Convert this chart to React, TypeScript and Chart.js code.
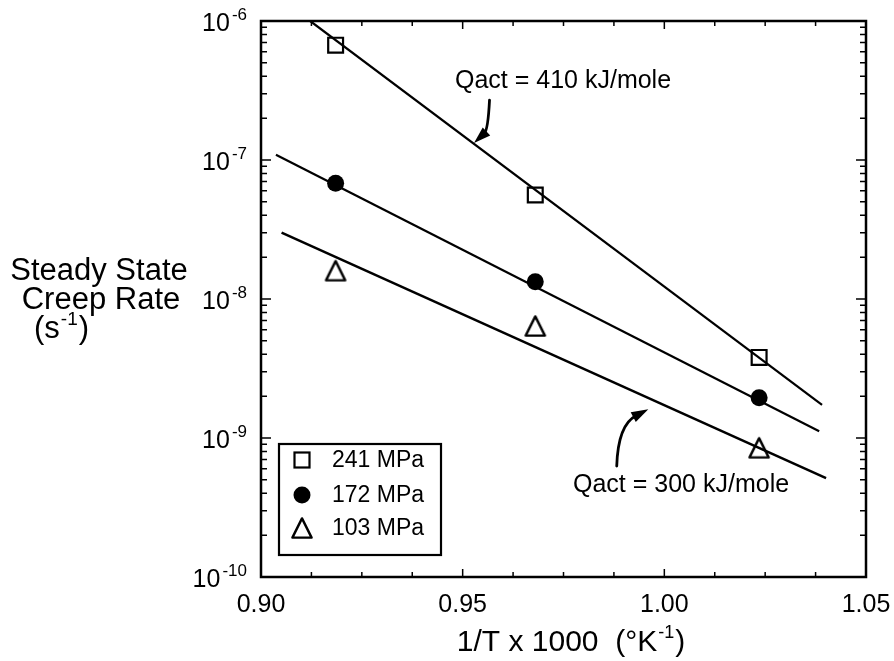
import React, { useEffect, useRef } from 'react';
import { Chart, registerables } from 'chart.js';

Chart.register(...registerables);

const FONT = '"Liberation Sans", Arial, Helvetica, sans-serif';

// ---- data (1/T x 1000 in 1/K, creep rate in 1/s) ----
const inverseTemp = [0.9185, 0.968, 1.0235];
const rate241 = [6.7e-7, 5.6e-8, 3.8e-9];
const rate172 = [6.8e-8, 1.33e-8, 1.95e-9];
const rate103 = [1.6e-8, 6.4e-9, 8.5e-10];

// fitted lines (end points)
const fit410X = [0.9122, 1.0391];
const fit410Y = [1.0e-6, 1.73e-9];
const fit172X = [0.9037, 1.0384];
const fit172Y = [1.09e-7, 1.12e-9];
const fit300X = [0.9051, 1.0401];
const fit300Y = [3.0e-8, 5.15e-10];

const seriesLabels = ['241 MPa', '172 MPa', '103 MPa'];

// ticks
const xTickValues = [0.9, 0.95, 1.0, 1.05];
const xTickLabels = ['0.90', '0.95', '1.00', '1.05'];
const xMinorTicks = [0.9125, 0.925, 0.9375, 0.9625, 0.975, 0.9875, 1.0125, 1.025, 1.0375];
const yDecadeExponents = [-6, -7, -8, -9, -10];
const yTickExponentLabels = ['-6', '-7', '-8', '-9', '-10'];
const yMinorMultipliers = [2, 3, 4, 5, 6, 7, 8, 9];

// annotation texts and anchors (data units)
const note410Text = 'Qact = 410 kJ/mole';
const note410At = { x: 0.9481, y: 3.3e-7 };
const arrow410 = [
  { x: 0.95666, y: 2.7e-7 },
  { x: 0.95629, y: 1.644e-7 },
  { x: 0.95281, y: 1.326e-7 },
];
const note300Text = 'Qact = 300 kJ/mole';
const note300At = { x: 0.97736, y: 4.09e-10 };
const arrow300 = [
  { x: 0.9882, y: 6.29e-10 },
  { x: 0.98852, y: 1.24e-9 },
  { x: 0.99603, y: 1.609e-9 },
];

const toPts = (xs: number[], ys: number[]) => xs.map((x, i) => ({ x, y: ys[i] }));

function makeTriangle(w: number, h: number, lw: number) {
  const c = document.createElement('canvas');
  c.width = Math.round(w + lw * 2);
  c.height = Math.round(h + lw * 2);
  const g = c.getContext('2d')!;
  g.lineWidth = lw;
  g.strokeStyle = '#000';
  g.lineJoin = 'round';
  g.beginPath();
  g.moveTo(c.width / 2, lw);
  g.lineTo(c.width - lw, c.height - lw);
  g.lineTo(lw, c.height - lw);
  g.closePath();
  g.stroke();
  return c;
}

export default function App() {
  const canvasRef = useRef<HTMLCanvasElement | null>(null);

  useEffect(() => {
    const canvas = canvasRef.current;
    if (!canvas) return;
    const tri = makeTriangle(19, 19, 2.4);

    const overlay = {
      id: 'overlay',
      afterDraw(chart: any) {
        const ctx = chart.ctx as CanvasRenderingContext2D;
        const xs = chart.scales.x;
        const ys = chart.scales.y;
        const { left, right, top, bottom } = chart.chartArea;
        ctx.save();
        ctx.strokeStyle = '#000';
        ctx.fillStyle = '#000';

        // frame
        ctx.lineWidth = 2.5;
        ctx.strokeRect(left, top, right - left, bottom - top);

        // x ticks (bottom and top, inward)
        ctx.lineWidth = 1.5;
        ctx.beginPath();
        xMinorTicks.forEach((v) => {
          const px = xs.getPixelForValue(v);
          ctx.moveTo(px, bottom); ctx.lineTo(px, bottom - 5);
          ctx.moveTo(px, top); ctx.lineTo(px, top + 5);
        });
        xTickValues.forEach((v) => {
          const px = xs.getPixelForValue(v);
          ctx.moveTo(px, bottom); ctx.lineTo(px, bottom - 8);
          ctx.moveTo(px, top); ctx.lineTo(px, top + 8);
        });
        // y ticks (left and right, inward)
        yDecadeExponents.forEach((e) => {
          const py = ys.getPixelForValue(Math.pow(10, e));
          ctx.moveTo(left, py); ctx.lineTo(left + 10, py);
          ctx.moveTo(right, py); ctx.lineTo(right - 10, py);
          yMinorMultipliers.forEach((m) => {
            const v = m * Math.pow(10, e);
            if (v >= 1e-6) return;
            const p = ys.getPixelForValue(v);
            ctx.moveTo(left, p); ctx.lineTo(left + 6, p);
            ctx.moveTo(right, p); ctx.lineTo(right - 6, p);
          });
        });
        ctx.stroke();

        // x tick labels
        ctx.font = `25px ${FONT}`;
        ctx.textAlign = 'center';
        ctx.textBaseline = 'middle';
        xTickValues.forEach((v, i) => {
          ctx.fillText(xTickLabels[i], xs.getPixelForValue(v), bottom + 28);
        });

        // y tick labels 10^n
        yDecadeExponents.forEach((e, i) => {
          const py = ys.getPixelForValue(Math.pow(10, e));
          ctx.font = `17px ${FONT}`;
          const sup = yTickExponentLabels[i];
          const supW = ctx.measureText(sup).width;
          const endX = left - 14;
          const baseX = endX - supW - 2;
          ctx.textAlign = 'left';
          ctx.textBaseline = 'alphabetic';
          ctx.fillText(sup, baseX + 2, py - 1);
          ctx.font = `25px ${FONT}`;
          ctx.textAlign = 'right';
          ctx.textBaseline = 'middle';
          ctx.fillText('10', baseX, py + 3);
        });

        // x title with superscript
        {
          const main = '1/T x 1000  (°K';
          const sup = '-1';
          const tail = ')';
          ctx.textBaseline = 'alphabetic';
          ctx.textAlign = 'left';
          ctx.font = `30px ${FONT}`;
          const wMain = ctx.measureText(main).width;
          const wTail = ctx.measureText(tail).width;
          ctx.font = `18px ${FONT}`;
          const wSup = ctx.measureText(sup).width;
          const total = wMain + wSup + 2 + wTail;
          const cx = 571;
          let x = cx - total / 2;
          const by = bottom + 74;
          ctx.font = `30px ${FONT}`;
          ctx.fillText(main, x, by);
          x += wMain + 1;
          ctx.font = `18px ${FONT}`;
          ctx.fillText(sup, x, by - 13);
          x += wSup + 1;
          ctx.font = `30px ${FONT}`;
          ctx.fillText(tail, x, by);
        }

        // y title
        {
          ctx.font = `31px ${FONT}`;
          ctx.textAlign = 'center';
          ctx.textBaseline = 'alphabetic';
          ctx.fillText('Steady State', 99, 280);
          ctx.fillText('Creep Rate', 101, 309);
          ctx.textAlign = 'left';
          let x = 34;
          ctx.fillText('(s', x, 338);
          x += ctx.measureText('(s').width + 1;
          ctx.font = `19px ${FONT}`;
          ctx.fillText('-1', x, 325);
          x += ctx.measureText('-1').width + 1;
          ctx.font = `31px ${FONT}`;
          ctx.fillText(')', x, 338);
        }

        // annotations
        ctx.font = `25px ${FONT}`;
        ctx.textAlign = 'left';
        ctx.textBaseline = 'alphabetic';
        ctx.fillText(note410Text, xs.getPixelForValue(note410At.x), ys.getPixelForValue(note410At.y));
        ctx.fillText(note300Text, xs.getPixelForValue(note300At.x), ys.getPixelForValue(note300At.y));

        const drawArrow = (pts: { x: number; y: number }[]) => {
          const p = pts.map((q) => ({ x: xs.getPixelForValue(q.x), y: ys.getPixelForValue(q.y) }));
          const [a, c, t] = p;
          const ang = Math.atan2(t.y - c.y, t.x - c.x);
          const len = 17;
          const hw = 5.5;
          const bx = t.x - Math.cos(ang) * len;
          const by = t.y - Math.sin(ang) * len;
          ctx.lineWidth = 2.8;
          ctx.lineCap = 'round';
          ctx.beginPath();
          ctx.moveTo(a.x, a.y);
          ctx.quadraticCurveTo(c.x, c.y, bx + Math.cos(ang) * 3, by + Math.sin(ang) * 3);
          ctx.stroke();
          ctx.beginPath();
          ctx.moveTo(t.x, t.y);
          ctx.lineTo(bx - Math.sin(ang) * hw, by + Math.cos(ang) * hw);
          ctx.lineTo(bx + Math.sin(ang) * hw, by - Math.cos(ang) * hw);
          ctx.closePath();
          ctx.fill();
        };
        drawArrow(arrow410);
        drawArrow(arrow300);

        // legend box inside plot area (lower left)
        {
          const bw = 162;
          const bh = 111;
          const bxl = left + 18;
          const byt = bottom - 22 - bh;
          ctx.lineWidth = 2.2;
          ctx.strokeRect(bxl, byt, bw, bh);
          const rows = [16, 51, 84];
          const mx = bxl + 23;
          ctx.font = `23px ${FONT}`;
          ctx.textAlign = 'left';
          ctx.textBaseline = 'middle';
          seriesLabels.forEach((lab, i) => {
            const y = byt + rows[i];
            if (i === 0) {
              ctx.lineWidth = 2.2;
              ctx.strokeRect(mx - 7.5, y - 7.5, 15, 15);
            } else if (i === 1) {
              ctx.beginPath();
              ctx.arc(mx, y, 8.5, 0, Math.PI * 2);
              ctx.fill();
            } else {
              ctx.drawImage(tri, mx - tri.width / 2, y - tri.height / 2);
            }
            ctx.fillText(lab, bxl + 53, y + 1);
          });
        }
        ctx.restore();
      },
    };

    const chart = new Chart(canvas, {
      type: 'scatter',
      data: {
        datasets: [
          {
            label: seriesLabels[0],
            data: toPts(inverseTemp, rate241),
            pointStyle: 'rect',
            pointRadius: 10.5,
            pointBorderWidth: 2.2,
            pointBorderColor: '#000',
            pointBackgroundColor: 'rgba(0,0,0,0)',
            showLine: false,
          },
          {
            label: seriesLabels[1],
            data: toPts(inverseTemp, rate172),
            pointStyle: 'circle',
            pointRadius: 8.5,
            pointBorderWidth: 0,
            pointBorderColor: '#000',
            pointBackgroundColor: '#000',
            showLine: false,
          },
          {
            label: seriesLabels[2],
            data: toPts(inverseTemp, rate103),
            pointStyle: tri,
            pointRadius: 10,
            showLine: false,
          },
          {
            label: 'fit 410',
            data: toPts(fit410X, fit410Y),
            showLine: true,
            borderColor: '#000',
            borderWidth: 2.2,
            pointRadius: 0,
            fill: false,
          },
          {
            label: 'fit 172',
            data: toPts(fit172X, fit172Y),
            showLine: true,
            borderColor: '#000',
            borderWidth: 2.2,
            pointRadius: 0,
            fill: false,
          },
          {
            label: 'fit 300',
            data: toPts(fit300X, fit300Y),
            showLine: true,
            borderColor: '#000',
            borderWidth: 2.5,
            pointRadius: 0,
            fill: false,
          },
        ] as any,
      },
      options: {
        animation: false,
        responsive: true,
        maintainAspectRatio: false,
        layout: { padding: { left: 261, right: 28, top: 21, bottom: 84 } },
        plugins: {
          legend: { display: false },
          tooltip: { enabled: false },
        },
        scales: {
          x: { type: 'linear', min: 0.9, max: 1.05, display: false },
          y: { type: 'logarithmic', min: 1e-10, max: 1e-6, display: false },
        },
      },
      plugins: [overlay],
    });
    return () => chart.destroy();
  }, []);

  return (
    <div style={{ position: 'absolute', left: 0, top: 0, width: 894, height: 661, background: '#fff' }}>
      <canvas ref={canvasRef} />
    </div>
  );
}
